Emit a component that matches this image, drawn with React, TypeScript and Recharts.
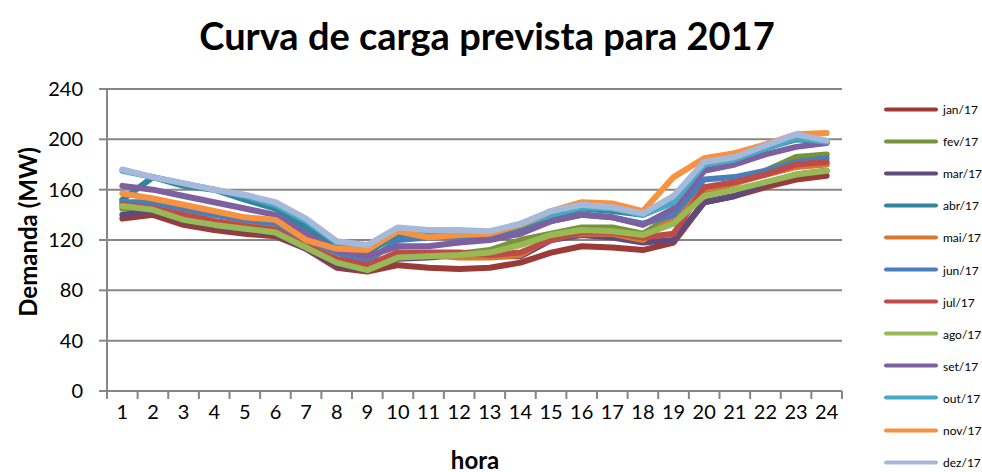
import { LineChart, Line, XAxis, YAxis, CartesianGrid } from 'recharts';

const horas = ['1', '2', '3', '4', '5', '6', '7', '8', '9', '10', '11', '12', '13', '14', '15', '16', '17', '18', '19', '20', '21', '22', '23', '24'];

const jan = [137, 140, 132, 128, 125, 123, 113, 98, 95, 100, 98, 97, 98, 102, 110, 115, 114, 112, 118, 150, 155, 162, 168, 171];
const fev = [145, 146, 138, 133, 130, 127, 115, 103, 97, 108, 108, 109, 112, 120, 125, 130, 130, 125, 140, 158, 165, 175, 186, 188];
const mar = [140, 143, 135, 131, 128, 125, 113, 100, 96, 105, 106, 108, 107, 107, 120, 124, 122, 118, 120, 150, 155, 165, 172, 175];
const abr = [152, 170, 163, 160, 152, 145, 130, 115, 110, 125, 124, 125, 125, 130, 138, 145, 143, 140, 150, 180, 185, 193, 200, 198];
const mai = [150, 147, 142, 135, 132, 130, 116, 104, 100, 110, 108, 106, 106, 108, 122, 125, 125, 120, 138, 160, 165, 172, 178, 180];
const jun = [150, 150, 145, 140, 136, 133, 120, 110, 103, 120, 122, 123, 123, 126, 135, 140, 138, 133, 140, 168, 170, 175, 182, 185];
const jul = [148, 145, 140, 135, 131, 128, 115, 105, 100, 110, 110, 110, 108, 110, 120, 126, 126, 122, 125, 162, 166, 172, 180, 182];
const ago = [147, 144, 136, 132, 129, 126, 114, 102, 96, 106, 107, 108, 110, 116, 124, 128, 127, 124, 133, 155, 160, 166, 172, 175];
const set = [163, 160, 155, 150, 145, 140, 125, 112, 107, 115, 115, 118, 120, 125, 135, 140, 138, 132, 145, 175, 180, 188, 194, 197];
const out = [175, 170, 165, 160, 155, 148, 135, 118, 113, 127, 125, 126, 126, 132, 140, 146, 145, 140, 150, 180, 184, 193, 201, 198];
const nov = [157, 153, 148, 143, 138, 136, 120, 113, 112, 127, 122, 124, 125, 132, 143, 150, 149, 143, 170, 185, 189, 196, 204, 205];
const dez = [176, 170, 165, 160, 156, 150, 137, 119, 116, 130, 128, 128, 127, 133, 143, 148, 146, 141, 155, 182, 186, 195, 204, 199];

const series = [
  { key: 'jan/17', values: jan, color: '#9b3b38' },
  { key: 'fev/17', values: fev, color: '#77933c' },
  { key: 'mar/17', values: mar, color: '#604a7b' },
  { key: 'abr/17', values: abr, color: '#31859c' },
  { key: 'mai/17', values: mai, color: '#d7782f' },
  { key: 'jun/17', values: jun, color: '#4a7ebb' },
  { key: 'jul/17', values: jul, color: '#be4b48' },
  { key: 'ago/17', values: ago, color: '#98b954' },
  { key: 'set/17', values: set, color: '#7d60a0' },
  { key: 'out/17', values: out, color: '#46aac5' },
  { key: 'nov/17', values: nov, color: '#f69240' },
  { key: 'dez/17', values: dez, color: '#a7b9da' },
];

const yTicks = [0, 40, 80, 120, 160, 200, 240];

const data = horas.map((h, i) => {
  const row: { [k: string]: string | number } = { hora: h };
  series.forEach((s) => {
    row[s.key] = s.values[i];
  });
  return row;
});

const FONT = 'Lato, "Open Sans", sans-serif';
const GREY = '#868686';
const HALF_STEP = 735 / 24 / 2;

function HoraTick(props: any) {
  const { x, y, payload, index } = props;
  return (
    <g>
      <line x1={x - HALF_STEP} y1={y} x2={x - HALF_STEP} y2={y + 8} stroke={GREY} strokeWidth={2} />
      {index === horas.length - 1 && (
        <line x1={x + HALF_STEP} y1={y} x2={x + HALF_STEP} y2={y + 8} stroke={GREY} strokeWidth={2} />
      )}
      <text x={x} y={y + 28} textAnchor="middle" fontSize={20} fill="#000" fontFamily={FONT}>
        {payload.value}
      </text>
    </g>
  );
}

export default function App() {
  return (
    <div style={{ position: 'absolute', left: 0, top: 0, width: 982, height: 472, background: '#fff', fontFamily: FONT, overflow: 'hidden' }}>
      <LineChart width={982} height={472} data={data} margin={{ top: 89, right: 140, bottom: 41, left: 0 }}>
        <CartesianGrid vertical={false} stroke={GREY} strokeWidth={2} />
        <XAxis
          dataKey="hora"
          height={40}
          padding={{ left: HALF_STEP, right: HALF_STEP }}
          axisLine={{ stroke: GREY, strokeWidth: 2 }}
          tickLine={false}
          tickSize={0}
          tickMargin={0}
          interval={0}
          tick={<HoraTick />}
        />
        <YAxis
          width={107}
          domain={[0, 240]}
          ticks={yTicks}
          interval={0}
          axisLine={{ stroke: GREY, strokeWidth: 2 }}
          tickLine={{ stroke: GREY, strokeWidth: 2 }}
          tickSize={8}
          tickMargin={16}
          tick={{ fontSize: 20, fill: '#000', fontFamily: FONT }}
        />
        {series.map((s) => (
          <Line
            key={s.key}
            dataKey={s.key}
            stroke={s.color}
            strokeWidth={6}
            strokeLinejoin="round"
            strokeLinecap="round"
            dot={false}
            activeDot={false}
            isAnimationActive={false}
          />
        ))}
      </LineChart>
      <div style={{ position: 'absolute', left: 487, top: 35, transform: 'translate(-50%, -50%)', fontSize: 38, fontWeight: 700, whiteSpace: 'nowrap' }}>
        Curva de carga prevista para 2017
      </div>
      <div style={{ position: 'absolute', left: 475, top: 459, transform: 'translate(-50%, -50%)', fontSize: 24, fontWeight: 700, whiteSpace: 'nowrap' }}>
        hora
      </div>
      <div style={{ position: 'absolute', left: 27, top: 232, transform: 'translate(-50%, -50%) rotate(-90deg)', fontSize: 24, fontWeight: 700, whiteSpace: 'nowrap' }}>
        Demanda (MW)
      </div>
      <div style={{ position: 'absolute', left: 884, top: 109 }}>
        {series.map((s, i) => (
          <div key={s.key} style={{ position: 'absolute', top: i * 32.1, left: 0, display: 'flex', alignItems: 'center', transform: 'translateY(-50%)', whiteSpace: 'nowrap' }}>
            <div style={{ width: 54, height: 4, borderRadius: 2, background: s.color }} />
            <span style={{ marginLeft: 5, fontSize: 12, color: '#000' }}>{s.key}</span>
          </div>
        ))}
      </div>
    </div>
  );
}
